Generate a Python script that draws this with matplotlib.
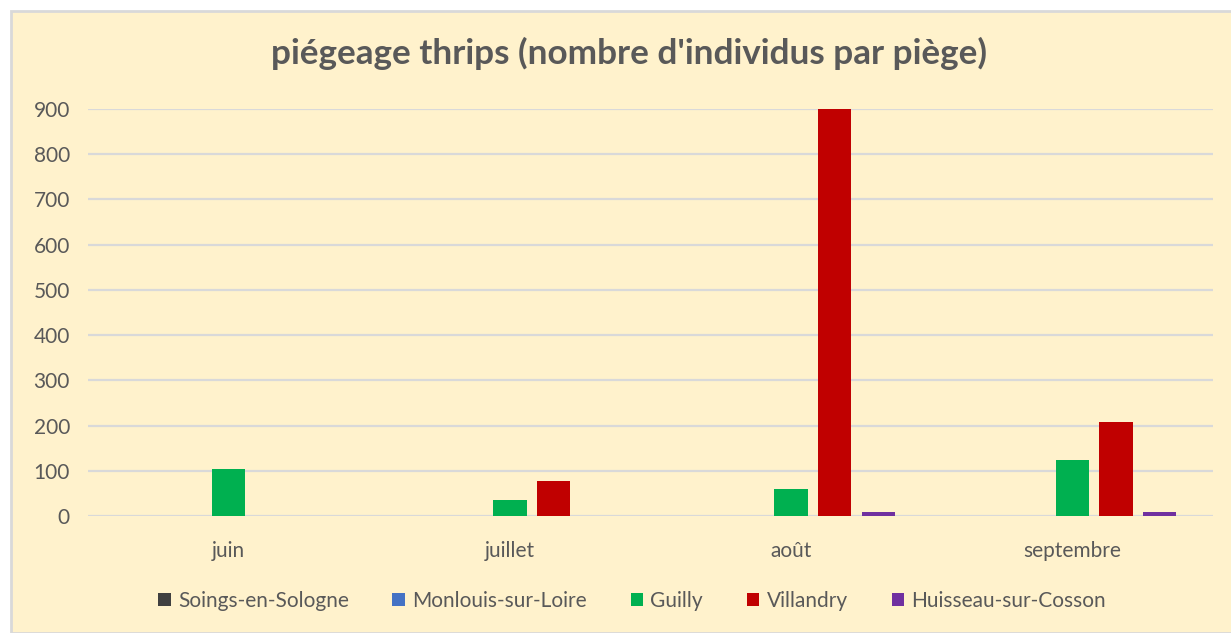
import matplotlib
matplotlib.use("Agg")
import matplotlib.pyplot as plt
from matplotlib.patches import Rectangle
import numpy as np

months = ["juin", "juillet", "août", "septembre"]
series_names = ["Soings-en-Sologne", "Monlouis-sur-Loire", "Guilly", "Villandry", "Huisseau-sur-Cosson"]
soings = [0, 0, 0, 0]
monlouis = [0, 0, 0, 0]
guilly = [103, 36, 60, 123]
villandry = [0, 77, 900, 208]
huisseau = [0, 0, 8, 8]
colors = ["#404040", "#4472C4", "#00B050", "#C00000", "#7030A0"]
yticks = [0, 100, 200, 300, 400, 500, 600, 700, 800, 900]
title = "piégeage thrips (nombre d'individus par piège)"

plt.rcParams['font.family'] = ['Lato', 'DejaVu Sans']

W, H = 1231, 633
fig = plt.figure(figsize=(W / 100, H / 100), dpi=100, facecolor="white")
bg = Rectangle((10.5 / W, 0), 1, 1 - 10.5 / H, transform=fig.transFigure,
               facecolor="#FFF2CC", edgecolor="#D9D9D9", linewidth=2, zorder=-10)
fig.patches.append(bg)

ax = fig.add_axes([88 / W, 1 - 516 / H, (1213 - 88) / W, (516 - 109) / H])
ax.set_facecolor("none")
ax.set_zorder(5)

data = [soings, monlouis, guilly, villandry, huisseau]
x = np.arange(len(months))
step = 0.155
width = 0.119
for i, (name, vals, c) in enumerate(zip(series_names, data, colors)):
    ax.bar(x + (i - 2) * step, vals, width=width, color=c, label=name, zorder=3)

ax.set_xlim(-0.5, len(months) - 0.5)
ax.set_ylim(0, 900)
ax.set_yticks(yticks)
ax.set_xticks(x)
ax.set_xticklabels(months)
ax.yaxis.grid(True, color="#D9D9D9", linewidth=1.6, zorder=0)
ax.set_axisbelow(True)
for s in ax.spines.values():
    s.set_visible(False)
ax.tick_params(axis="both", length=0, labelsize=15, labelcolor="#595959")
ax.tick_params(axis="y", pad=13)
ax.tick_params(axis="x", pad=18)

fig.text(0.5 * (268 + 990) / W, 1 - 53 / H, title, ha="center", va="center",
         fontsize=25.3, fontweight="bold", color="#595959")

leg = fig.legend(loc="center", bbox_to_anchor=(632 / W, 1 - 601 / H), ncol=5,
                 frameon=False, fontsize=15, labelcolor="#595959",
                 handlelength=0.6, handleheight=0.6, handletextpad=0.35, columnspacing=2.1)

fig.savefig("out.png", dpi=100, facecolor="white")
